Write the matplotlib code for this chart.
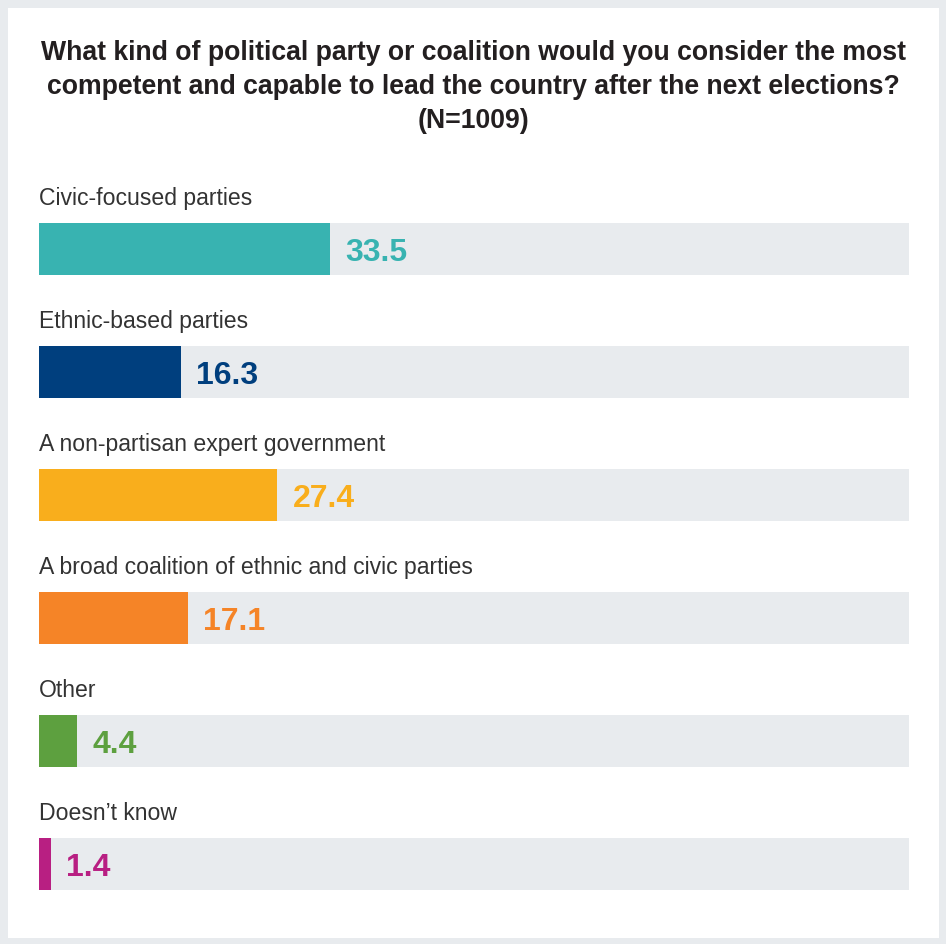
import matplotlib.pyplot as plt
from matplotlib.patches import Rectangle

plt.rcParams['font.family'] = ['Liberation Sans', 'DejaVu Sans']

title = ("What kind of political party or coalition would you consider the most\n"
         "competent and capable to lead the country after the next elections?\n"
         "(N=1009)")
categories = ["Civic-focused parties", "Ethnic-based parties",
              "A non-partisan expert government",
              "A broad coalition of ethnic and civic parties",
              "Other", "Doesn\u2019t know"]
values = [33.5, 16.3, 27.4, 17.1, 4.4, 1.4]
colors = ["#38b3b1", "#003f7e", "#f9ae1c", "#f58427", "#5da03f", "#b81f82"]
track = "#e8ebee"

W, H = 946, 944
fig = plt.figure(figsize=(W / 100, H / 100), dpi=100)
fig.patch.set_facecolor(track)
# white card inside the grey frame
fig.patches.append(Rectangle((8 / W, 6 / H), 931 / W, 930 / H, transform=fig.transFigure,
                             facecolor="white", edgecolor="none", zorder=0))

fig.text(473 / W, 1 - 87 / H, title, ha="center", va="center", fontsize=19.2,
         fontweight="bold", color="#231f20", linespacing=1.4)

ax = fig.add_axes([39 / W, (944 - 925.5) / H, 870 / W, 738 / H])
ax.set_zorder(2)
ax.set_facecolor("none")
ypos = list(range(len(values)))
ax.barh(ypos, [100] * len(values), height=0.43, color=track, zorder=1)
ax.barh(ypos, values, height=0.43, color=colors, zorder=2)
for y, v, c, lab in zip(ypos, values, colors, categories):
    ax.text(0, y - 0.41, lab, ha="left", va="center", fontsize=16.6, color="#333333")
    ax.annotate(f"{v}", (v, y), xytext=(11, -3), textcoords="offset points",
                ha="left", va="center", fontsize=23, fontweight="bold", color=c, zorder=3)
ax.set_xlim(0, 100)
ax.set_ylim(len(values) - 0.5, -0.5)
ax.axis("off")

fig.savefig("out.png", dpi=100, facecolor=fig.get_facecolor())
